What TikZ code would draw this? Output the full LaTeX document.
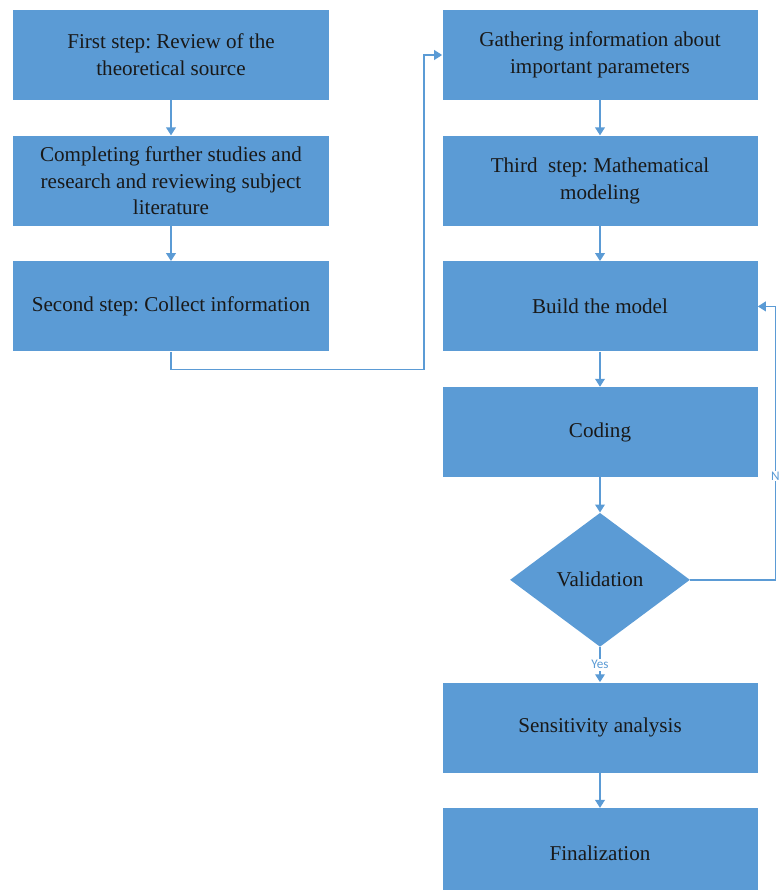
\documentclass[tikz,border=0pt]{standalone}
\usepackage{fontspec}
\setmainfont{Liberation Serif}
\newfontfamily\labelfont{Carlito}
\usetikzlibrary{positioning,shapes.geometric,arrows.meta}
\definecolor{boxblue}{HTML}{5B9BD5}
\frenchspacing
\begin{document}
\begin{tikzpicture}[>={Triangle[width=5.5pt,length=4.5pt]},
    stepbox/.style={rectangle, fill=boxblue, minimum width=6.3cm, minimum height=1.8cm,
        align=center, inner sep=2pt, font=\fontsize{12}{15.3}\selectfont, text=black!90},
    decide/.style={diamond, fill=boxblue, minimum width=3.6cm, minimum height=2.68cm,
        inner sep=0pt, font=\fontsize{12}{15.3}\selectfont, text=black!90},
    link/.style={draw=boxblue, line width=0.8pt, ->},
    tag/.style={fill=white, inner sep=1pt, text=boxblue, font=\labelfont\fontsize{7.5}{8}\selectfont}]
\useasboundingbox (0,0) rectangle (15.58,-17.8);
\node[stepbox] (review) at (3.42,-1.1) {First step: Review of the\\theoretical source};
\node[stepbox, below=0.7cm of review] (studies) {Completing further studies and\\research and reviewing subject\\literature};
\node[stepbox, below=0.7cm of studies] (collect) {Second step: Collect information};
\node[stepbox] (gather) at (12,-1.1) {Gathering information about\\important parameters};
\node[stepbox, below=0.7cm of gather] (math) {Third~~step: Mathematical\\modeling};
\node[stepbox, below=0.7cm of math] (build) {Build the model};
\node[stepbox, below=0.7cm of build] (coding) {Coding};
\node[decide, below=0.7cm of coding] (valid) {Validation};
\node[stepbox, below=0.7cm of valid] (sens) {Sensitivity analysis};
\node[stepbox, below=0.7cm of sens] (final) {Finalization};
\draw[link] (review) -- (studies);
\draw[link] (studies) -- (collect);
\draw[link] (collect.south) -- ++(0,-0.36) -| ([xshift=-0.36cm]gather.west) -- (gather.west);
\draw[link] (gather) -- (math);
\draw[link] (math) -- (build);
\draw[link] (build) -- (coding);
\draw[link] (coding) -- (valid);
\draw[link] (valid) -- node[tag]{Yes} (sens);
\draw[link] (valid.east) -| node[tag, pos=0.69, inner sep=0.5pt]{N} ([xshift=0.35cm]build.east) -- (build.east);
\draw[link] (sens) -- (final);
\end{tikzpicture}
\end{document}
